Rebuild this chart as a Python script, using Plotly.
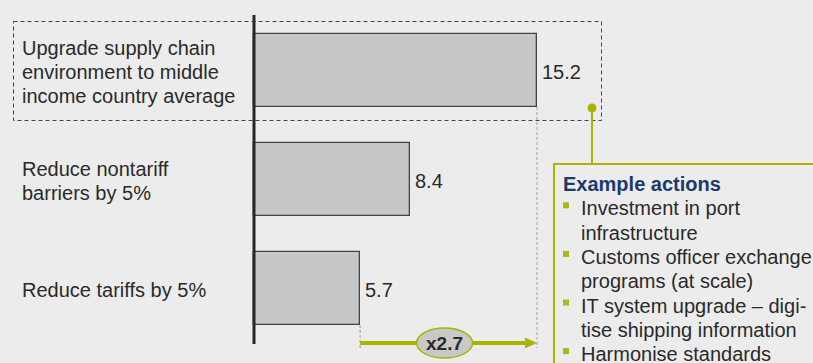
import plotly.graph_objects as go

# ---- data -------------------------------------------------------------
scenarios = [
    "Upgrade supply chain environment to middle income country average",
    "Reduce nontariff barriers by 5%",
    "Reduce tariffs by 5%",
]
label_lines = [
    ["Upgrade supply chain", "environment to middle", "income country average"],
    ["Reduce nontariff", "barriers by 5%"],
    ["Reduce tariffs by 5%"],
]
gains = [15.2, 8.4, 5.7]
actions_title = "Example actions"
action_lines = [
    (True, "Investment in port"),
    (False, "infrastructure"),
    (True, "Customs officer exchange"),
    (False, "programs (at scale)"),
    (True, "IT system upgrade \u2013 digi-"),
    (False, "tise shipping information"),
    (True, "Harmonise standards"),
]

# ---- styling / layout ---------------------------------------------------
W, H = 813, 363
BG = "#ececec"
GREEN = "#a8b400"
NAVY = "#1b3a6b"
TEXT = "#2a2a2a"
FONT = "Arial, Liberation Sans, sans-serif"

AXIS_PX = 254                      # pixel column of the value axis (x = 0)
PX_PER_UNIT = (537 - AXIS_PX) / 15.2
ROW_PX = 109                       # distance between bar centres
FIRST_ROW_PX = 70.5                # centre of first bar


def px_x(p):
    """pixel column -> data x"""
    return (p - AXIS_PX) / PX_PER_UNIT


def px_py(p):
    """pixel row -> paper y"""
    return 1 - p / H


def px_px(p):
    """pixel column -> paper x"""
    return p / W


y_lo = -FIRST_ROW_PX / ROW_PX
y_hi = (H - FIRST_ROW_PX) / ROW_PX

fig = go.Figure()
fig.add_trace(go.Bar(
    y=scenarios, x=gains, orientation="h", width=73 / ROW_PX,
    marker=dict(color="#c6c7c8", line=dict(color="#444444", width=1.3)),
    hoverinfo="skip",
))

shapes = []
annotations = []

# value axis line
shapes.append(dict(type="line", xref="x", yref="paper", x0=0, x1=0,
                   y0=px_py(15), y1=px_py(344),
                   line=dict(color="#262626", width=3), layer="above"))

# dashed highlight frame around the first scenario
shapes.append(dict(type="rect", xref="paper", yref="paper",
                   x0=px_px(13.5), x1=px_px(601.5),
                   y0=px_py(21.5), y1=px_py(120.5),
                   line=dict(color="#2c4672", width=1, dash="4px,3px"),
                   layer="below"))

# category labels on the left
for i, lines in enumerate(label_lines):
    n = len(lines)
    centre = FIRST_ROW_PX + ROW_PX * i + 1.5
    for j, txt in enumerate(lines):
        yy = centre + (j - (n - 1) / 2) * 24.5
        annotations.append(dict(
            text=txt, xref="paper", yref="paper", x=px_px(21), y=px_py(yy),
            xanchor="left", yanchor="middle", showarrow=False,
            font=dict(family=FONT, size=20, color=TEXT), borderpad=0))

# value labels
for i, v in enumerate(gains):
    annotations.append(dict(
        text=f"{v:.1f}", xref="x", yref="y", x=v, y=i + 1.8 / ROW_PX,
        xanchor="left", yanchor="middle", xshift=4, showarrow=False,
        font=dict(family=FONT, size=20, color=TEXT), borderpad=0))

# comparison arrow between the largest and the smallest gain
hi_v, lo_v = max(gains), min(gains)
arrow_y = px_py(343)
for v, top in ((hi_v, 107), (lo_v, 325)):
    shapes.append(dict(type="line", xref="x", yref="paper", x0=v, x1=v,
                       y0=px_py(top), y1=px_py(348),
                       line=dict(color="#a0a0a0", width=1, dash="3px,2px")))
head_len = px_x(AXIS_PX + 12)
shapes.append(dict(type="line", xref="x", yref="paper",
                   x0=lo_v, x1=hi_v - head_len, y0=arrow_y, y1=arrow_y,
                   line=dict(color=GREEN, width=4)))
shapes.append(dict(
    type="path", xref="x", yref="paper",
    path=(f"M {hi_v - head_len},{px_py(337.5)} L {hi_v},{arrow_y} "
          f"L {hi_v - head_len},{px_py(348.5)} Z"),
    fillcolor=GREEN, line=dict(color=GREEN, width=0)))
mid = (hi_v + lo_v) / 2 - px_x(AXIS_PX + 4)
half_w = px_x(AXIS_PX + 28)
shapes.append(dict(type="circle", xref="x", yref="paper",
                   x0=mid - half_w, x1=mid + half_w,
                   y0=px_py(328), y1=px_py(358),
                   fillcolor="#c8c8c8", line=dict(color=GREEN, width=1.5)))
annotations.append(dict(
    text=f"<b>x{hi_v / lo_v:.1f}</b>", xref="x", yref="paper", x=mid,
    y=px_py(343.5), xanchor="center", yanchor="middle", showarrow=False,
    font=dict(family=FONT, size=19, color=TEXT), borderpad=0))

# call-out box with example actions
shapes.append(dict(type="line", xref="paper", yref="paper",
                   x0=px_px(592), x1=px_px(592), y0=px_py(108), y1=px_py(163),
                   line=dict(color=GREEN, width=2)))
shapes.append(dict(type="circle", xref="paper", yref="paper",
                   x0=px_px(587.5), x1=px_px(596.5),
                   y0=px_py(103.5), y1=px_py(112.5),
                   fillcolor=GREEN, line=dict(color=GREEN, width=0)))
shapes.append(dict(type="rect", xref="paper", yref="paper",
                   x0=px_px(554), x1=px_px(830), y0=px_py(164), y1=px_py(380),
                   fillcolor=BG, line=dict(color=GREEN, width=2)))

annotations.append(dict(
    text=f"<b>{actions_title}</b>", xref="paper", yref="paper",
    x=px_px(561.5), y=px_py(184), xanchor="left", yanchor="middle",
    showarrow=False, font=dict(family=FONT, size=20, color=NAVY), borderpad=0))
for k, (bullet, txt) in enumerate(action_lines):
    yy = 184 + 24.3 * (k + 1)
    annotations.append(dict(
        text=txt, xref="paper", yref="paper", x=px_px(580), y=px_py(yy),
        xanchor="left", yanchor="middle", showarrow=False,
        font=dict(family=FONT, size=20, color=TEXT), borderpad=0))
    if bullet:
        shapes.append(dict(type="rect", xref="paper", yref="paper",
                           x0=px_px(563), x1=px_px(569),
                           y0=px_py(yy - 6), y1=px_py(yy),
                           fillcolor="#adb71a", line=dict(width=0)))

fig.update_layout(
    width=W, height=H,
    margin=dict(l=0, r=0, t=0, b=0),
    paper_bgcolor=BG, plot_bgcolor=BG,
    showlegend=False,
    xaxis=dict(range=[px_x(0), px_x(W)], visible=False, fixedrange=True),
    yaxis=dict(type="category", categoryarray=scenarios,
               range=[y_hi, y_lo], visible=False, fixedrange=True),
    shapes=shapes,
    annotations=annotations,
    bargap=0,
)

fig.write_html("out.html", config={"displayModeBar": False})
